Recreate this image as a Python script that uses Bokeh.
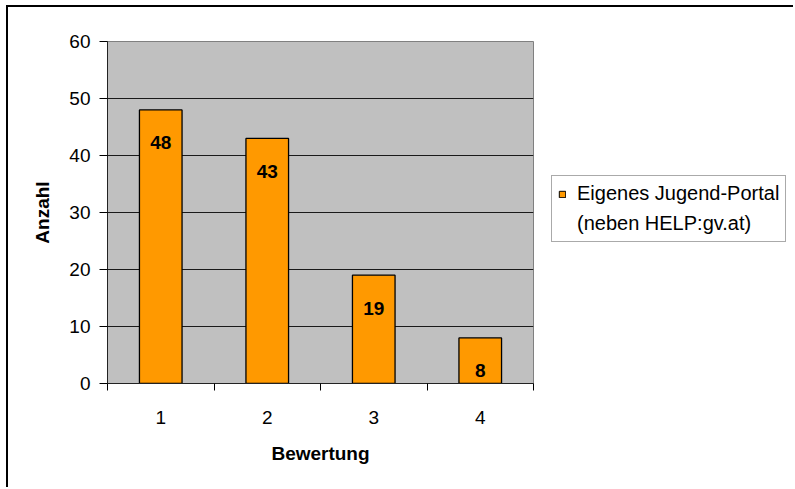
from bokeh.plotting import figure
from bokeh.layouts import row
from bokeh.models import (Range1d, FixedTicker, Legend, LegendItem, ColumnDataSource)
from bokeh.core.properties import value
from bokeh.embed import file_html
from bokeh.resources import INLINE

# ---- data ----
categories = ["1", "2", "3", "4"]
counts = [48, 43, 19, 8]
y_ticks = [0, 10, 20, 30, 40, 50, 60]
series_name = "Eigenes Jugend-Portal"
series_name_2 = "(neben HELP:gv.at)"
x_label = "Bewertung"
y_label = "Anzahl"

FONT = "Liberation Sans"
BAR_FILL = "#FF9900"
xs = list(range(1, len(categories) + 1))

p = figure(width=526, height=480, output_backend="svg", toolbar_location=None,
           x_range=Range1d(0.5, len(categories) + 0.5),
           y_range=Range1d(y_ticks[0], y_ticks[-1]))
p.min_border_left = 99
p.min_border_right = 1
p.min_border_top = 34
p.min_border_bottom = 104
p.background_fill_color = "#C0C0C0"
p.border_fill_color = "white"
p.outline_line_color = "#808080"
p.outline_line_width = 1

src = ColumnDataSource(dict(x=xs, top=counts, lab=[str(c) for c in counts]))
p.vbar(x="x", top="top", width=0.4, source=src, fill_color=BAR_FILL,
       line_color="black", line_width=1.3)
p.text(x="x", y="top", text="lab", source=src, y_offset=33,
       text_align="center", text_baseline="middle",
       text_font=value(FONT), text_font_style="bold", text_font_size="19px",
       text_color="black")

# grid
p.xgrid.visible = False
p.ygrid.ticker = FixedTicker(ticks=y_ticks[1:-1])
p.ygrid.grid_line_color = "#1a1a1a"
p.ygrid.grid_line_width = 1

# x axis
xa = p.xaxis[0]
xa.ticker = FixedTicker(ticks=xs, minor_ticks=[x - 0.5 for x in xs] + [xs[-1] + 0.5])
xa.major_label_overrides = {x: c for x, c in zip(xs, categories)}
xa.major_tick_out = 0
xa.major_tick_in = 0
xa.minor_tick_out = 7
xa.minor_tick_in = 0
xa.minor_tick_line_color = "black"
xa.axis_line_color = "#222222"
xa.major_label_text_font = FONT
xa.major_label_text_font_size = "19px"
xa.major_label_text_color = "black"
xa.major_label_standoff = 20
xa.axis_label = x_label
xa.axis_label_text_font = FONT
xa.axis_label_text_font_size = "19px"
xa.axis_label_text_font_style = "bold"
xa.axis_label_text_color = "black"
xa.axis_label_standoff = 16

# y axis
ya = p.yaxis[0]
ya.ticker = FixedTicker(ticks=y_ticks)
ya.major_tick_out = 8
ya.major_tick_in = 0
ya.minor_tick_out = 0
ya.minor_tick_in = 0
ya.major_tick_line_color = "black"
ya.axis_line_color = "#222222"
ya.major_label_text_font = FONT
ya.major_label_text_font_size = "19px"
ya.major_label_text_color = "black"
ya.major_label_standoff = 9
ya.axis_label = y_label
ya.axis_label_text_font = FONT
ya.axis_label_text_font_size = "19px"
ya.axis_label_text_font_style = "bold"
ya.axis_label_text_color = "black"
ya.axis_label_standoff = 13

# legend panel (separate figure so the legend is not clipped)
q = figure(width=259, height=480, output_backend="svg", toolbar_location=None,
           x_range=Range1d(-20, -19), y_range=Range1d(-20, -19))
q.min_border = 0
q.axis.visible = False
q.grid.visible = False
q.outline_line_color = None
q.background_fill_color = "white"
q.border_fill_color = "white"
# same bars, but outside this panel's visible range: only used as legend glyph
lg1 = q.vbar(x="x", top="top", width=0.4, source=src, fill_color=BAR_FILL,
             line_color="black", line_width=1)
lg2 = q.vbar(x="x", top="top", width=0.4, source=src, fill_alpha=0, line_alpha=0)
legend = Legend(items=[LegendItem(label=series_name, renderers=[lg1]),
                       LegendItem(label=series_name_2, renderers=[lg2])],
                location=(17, 141), margin=0, padding=6, spacing=7,
                glyph_width=8, glyph_height=8, label_height=22, label_standoff=11,
                label_text_font=FONT, label_text_font_size="20px",
                label_text_color="black", border_line_color="#555555",
                border_line_width=1, background_fill_color="white",
                background_fill_alpha=1)
q.add_layout(legend, "center")

layout = row(p, q, spacing=0)
layout.styles = {"border-left": "2px solid black", "border-top": "2px solid black",
                 "margin-left": "6px", "margin-top": "5px"}

open("out.html", "w").write(file_html(layout, INLINE))
